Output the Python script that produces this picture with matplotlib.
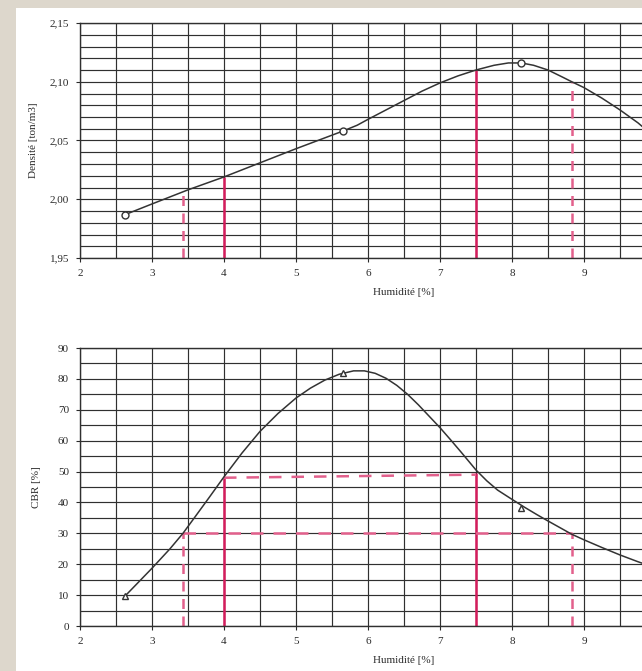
import matplotlib.pyplot as plt
from matplotlib.ticker import MultipleLocator, FuncFormatter

# measured points (circles / triangles)
hum_pts = [2.63, 5.65, 8.13]
dens_pts = [1.987, 2.058, 2.116]
cbr_pts = [9.8, 82.0, 38.1]

# density curve
dens_x = [2.63, 3.0, 3.5, 4.0, 4.5, 5.0, 5.65, 5.85, 6.0, 6.25, 6.5, 6.75, 7.0, 7.25,
          7.5, 7.75, 7.95, 8.13, 8.3, 8.5, 8.7, 8.83, 9.0, 9.25, 9.5, 9.75, 10.0]
dens_y = [1.987, 1.996, 2.008, 2.019, 2.031, 2.043, 2.058, 2.063, 2.068, 2.076, 2.084,
          2.092, 2.099, 2.105, 2.110, 2.114, 2.116, 2.116, 2.114, 2.110, 2.104, 2.100,
          2.095, 2.086, 2.076, 2.065, 2.052]

# CBR curve
cbr_x = [2.63, 3.0, 3.25, 3.43, 3.6, 3.8, 4.0, 4.25, 4.5, 4.75, 5.0, 5.2, 5.4, 5.6,
         5.8, 5.95, 6.1, 6.25, 6.4, 6.55, 6.7, 6.85, 7.0, 7.15, 7.3, 7.5, 7.65, 7.8,
         8.0, 8.17, 8.35, 8.5, 8.7, 8.83, 9.0, 9.25, 9.5, 9.75, 10.0]
cbr_y = [9.8, 18.7, 25.0, 30.0, 35.4, 41.8, 48.3, 56.0, 63.0, 68.8, 73.8, 77.0, 79.6,
         81.5, 82.6, 82.6, 81.8, 80.2, 77.9, 75.0, 71.6, 67.9, 64.2, 60.2, 56.1, 50.5,
         47.0, 44.0, 41.0, 38.5, 36.0, 34.0, 31.4, 29.7, 27.9, 25.4, 23.0, 20.8, 18.8]

# reading lines
h_min_dens, h_max_dens = 3.43, 8.83
h_min_cbr, h_max_cbr = 4.0, 7.5
cbr_lim_low, cbr_lim_high = 30, 48
dens_at = {3.43: 2.006, 4.0: 2.019, 7.5: 2.110, 8.83: 2.100}

red = '#d41c5c'
red_d = '#e2608c'
grid_c = '#303030'
txt_c = '#2a2a2a'

plt.rcParams['font.family'] = ['Liberation Serif', 'DejaVu Serif']
plt.rcParams['font.size'] = 8

fig = plt.figure(figsize=(6.42, 6.71), dpi=100)
fig.patch.set_facecolor('#ddd7cc')
# white page
fig.patches.append(plt.Rectangle((16 / 642, 0), 1, 1 - 8 / 671, transform=fig.transFigure,
                                 facecolor='white', edgecolor='none', zorder=-10))

W, H = 642.0, 671.0
ax1 = fig.add_axes([80 / W, 1 - 258 / H, 648 / W, 235 / H])
ax2 = fig.add_axes([80 / W, 1 - 626 / H, 648 / W, 278 / H])

comma = FuncFormatter(lambda v, p: ('%.2f' % v).replace('.', ','))

for ax in (ax1, ax2):
    ax.set_xlim(2, 11)
    ax.set_xticks(range(2, 10))
    ax.xaxis.set_minor_locator(MultipleLocator(0.5))
    ax.grid(True, which='both', color=grid_c, linewidth=0.85)
    ax.set_axisbelow(True)
    ax.tick_params(which='major', direction='out', length=3, width=0.8, pad=5, colors=txt_c)
    ax.tick_params(which='minor', length=0)
    for s in ax.spines.values():
        s.set_color(grid_c)
        s.set_linewidth(1.0)
    ax.set_xlabel('Humidité [%]', labelpad=7, color=txt_c)

ax1.set_ylim(1.95, 2.15)
ax1.yaxis.set_major_locator(MultipleLocator(0.05))
ax1.yaxis.set_minor_locator(MultipleLocator(0.01))
ax1.yaxis.set_major_formatter(comma)
ax1.set_ylabel('Densité [ton/m3]', labelpad=8, color=txt_c)

ax1.plot(dens_x, dens_y, color='#333333', linewidth=1.1, zorder=3)
ax1.plot(hum_pts, dens_pts, linestyle='none', marker='o', markersize=5,
         markerfacecolor='white', markeredgecolor='#333333', markeredgewidth=1.0, zorder=4)
ax1.vlines([h_min_cbr, h_max_cbr], 1.95, [dens_at[h_min_cbr], dens_at[h_max_cbr]],
           color=red, linewidth=1.8, zorder=2)
ax1.vlines([h_min_dens, h_max_dens], 1.95, [dens_at[h_min_dens], dens_at[h_max_dens]],
           color=red_d, linewidth=1.8, linestyles=(0, (4, 3)), zorder=2)

ax2.set_ylim(0, 90)
ax2.yaxis.set_major_locator(MultipleLocator(10))
ax2.yaxis.set_minor_locator(MultipleLocator(5))
ax2.set_ylabel('CBR [%]', labelpad=12, color=txt_c)

ax2.plot(cbr_x, cbr_y, color='#333333', linewidth=1.1, zorder=3)
ax2.plot(hum_pts, cbr_pts, linestyle='none', marker='^', markersize=5,
         markerfacecolor='white', markeredgecolor='#333333', markeredgewidth=1.0, zorder=4)
ax2.vlines([h_min_cbr], 0, cbr_lim_high, color=red, linewidth=1.8, zorder=2)
ax2.vlines([h_max_cbr], 0, 49.5, color=red, linewidth=1.8, zorder=2)
ax2.plot([h_min_cbr, h_max_cbr], [cbr_lim_high, 49], color=red_d, linewidth=1.8,
         linestyle=(0, (5, 4)), zorder=2)
ax2.vlines([h_min_dens, h_max_dens], 0, cbr_lim_low, color=red_d, linewidth=1.8,
           linestyles=(0, (4, 3)), zorder=2)
ax2.hlines([cbr_lim_low], h_min_dens, h_max_dens, color=red_d, linewidth=1.8,
           linestyles=(0, (5, 4)), zorder=2)

fig.savefig('out.png', dpi=100, facecolor=fig.get_facecolor())
